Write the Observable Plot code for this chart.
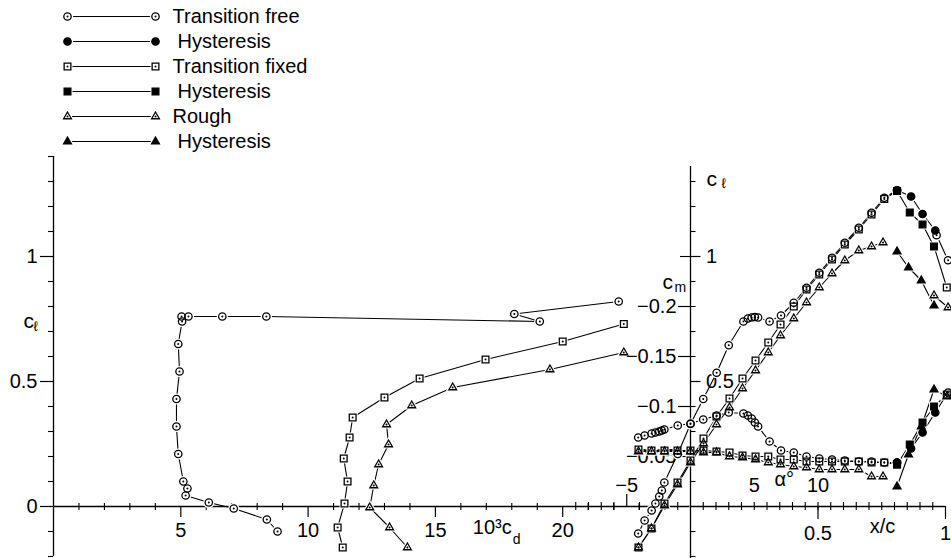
<!DOCTYPE html>
<html><head><meta charset="utf-8">
<script src="https://cdn.jsdelivr.net/npm/d3@7"></script>
<script src="https://cdn.jsdelivr.net/npm/@observablehq/plot@0.6"></script>
<style>
body{margin:0;background:#fff}
#chart{position:relative;width:951px;height:558px;overflow:hidden;background:#fff}
</style></head><body><div id="chart"></div>
<script>
// ---------- Drag polar (left panel): 10^3 c_d vs c_l ----------
const cdFree = [8.8, 8.38, 7.08, 6.1, 5.19, 5.26, 5.1, 4.9, 4.83, 4.83, 4.95, 4.9, 5.05, 5.03, 5.3, 6.63, 8.36, 19.1, 18.1, 22.2];
const clPolarFree = [-0.1, -0.052, -0.008, 0.016, 0.044, 0.072, 0.1, 0.21, 0.32, 0.43, 0.54, 0.65, 0.74, 0.76, 0.76, 0.76, 0.76, 0.74, 0.77, 0.82];
const cdFixed = [11.36, 11.16, 11.43, 11.55, 11.4, 11.63, 11.75, 13.0, 14.38, 16.97, 20.0, 22.4];
const clPolarFixed = [-0.164, -0.084, 0.012, 0.10, 0.192, 0.276, 0.356, 0.436, 0.512, 0.588, 0.66, 0.73];
const cdRough = [13.9, 13.2, 12.42, 12.58, 12.77, 13.16, 13.08, 14.07, 15.68, 19.5, 22.4];
const clPolarRough = [-0.164, -0.084, -0.004, 0.084, 0.168, 0.248, 0.328, 0.404, 0.476, 0.548, 0.616];

// ---------- Lift and moment curves (right panel): alpha vs c_l, c_m ----------
const alphaFree = [-4.1,-3.6,-3.05,-2.75,-2.45,-2.25,-2.05,-1.0,0,1.0,2.05,3.0,4.15,4.5,4.8,5.05,5.3,6.2,7.1,8.1,9.1,10.1,11.1,12.1,13.2,14.2,15.2,16.2];
const clFree = [-0.108,-0.056,-0.016,0.012,0.04,0.064,0.096,0.21,0.33,0.43,0.535,0.645,0.74,0.752,0.756,0.758,0.756,0.74,0.764,0.815,0.875,0.935,0.995,1.055,1.115,1.175,1.235,1.265];
const cmFree = [-0.069,-0.071,-0.073,-0.074,-0.075,-0.076,-0.077,-0.081,-0.083,-0.087,-0.091,-0.094,-0.093,-0.091,-0.088,-0.084,-0.080,-0.065,-0.056,-0.054,-0.050,-0.048,-0.047,-0.046,-0.045,-0.045,-0.044,-0.044];
const alphaFreeStall = [19.3, 20.2];
const clFreeStall = [1.085, 0.985];
const alphaFreeStallCm = [20.2];
const cmFreeStall = [-0.114];
const alphaFreeHyst = [19.2, 18.2, 17.3, 16.2];
const clFreeHyst = [1.104, 1.17, 1.24, 1.265];
const cmFreeHyst = [-0.094, -0.074, -0.058, -0.044];

const alphaFixed = [-4.08,-3.06,-2.04,-1.02,0,1.02,2.04,3.06,4.08,5.1,6.1,7.06,8.1,9.1,10.1,11.1,12.1,13.2,14.2,15.2,16.2];
const clFixed = [-0.164,-0.088,0.012,0.096,0.184,0.272,0.36,0.432,0.512,0.584,0.656,0.728,0.80,0.868,0.928,0.988,1.048,1.108,1.168,1.23,1.262];
const cmFixed = [-0.057,-0.056,-0.056,-0.056,-0.056,-0.056,-0.055,-0.054,-0.051,-0.050,-0.050,-0.047,-0.047,-0.045,-0.045,-0.045,-0.045,-0.045,-0.044,-0.044,-0.042];
const alphaFixedStall = [20.1];
const clFixedStall = [0.876];
const cmFixedStall = [-0.112];
const alphaFixedHyst = [19.1, 18.2, 17.2, 16.2];
const clFixedHyst = [1.04, 1.128, 1.176, 1.262];
const cmFixedHyst = [-0.100, -0.084, -0.062, -0.042];

const alphaRough = [-4.08,-3.06,-2.04,-1.02,0,1.02,2.04,3.06,4.08,5.1,6.1,7.06,8.1,9.1,10.1,11.1,12.1,13.2,14.2,15.1];
const clRough = [-0.164,-0.088,0.004,0.088,0.176,0.252,0.328,0.396,0.472,0.544,0.616,0.684,0.752,0.816,0.876,0.932,0.984,1.024,1.04,1.056];
const cmRough = [-0.055,-0.055,-0.055,-0.055,-0.055,-0.054,-0.054,-0.050,-0.049,-0.047,-0.044,-0.042,-0.040,-0.039,-0.037,-0.037,-0.037,-0.037,-0.030,-0.030];
const alphaRoughStall = [19.1, 20.2];
const clRoughStall = [0.844, 0.796];
const alphaRoughStallCm = [20.1];
const cmRoughStall = [-0.110];
const alphaRoughHyst = [19.1, 18.1, 17.1, 16.2];
const clRoughHyst = [0.804, 0.904, 0.956, 1.02];
const cmRoughHyst = [-0.117, -0.080, -0.052, -0.020];

// ---------- Ticks and labels ----------
const clMajor = [0, 0.5, 1];
const clMinorLeft = [-0.2,-0.1,0.1,0.2,0.3,0.4,0.6,0.7,0.8,0.9,1.1,1.2,1.3,1.4];
const clMajorRight = [0.5, 1];
const clMinorRight = [-0.2,-0.1,0.1,0.2,0.3,0.4,0.6,0.7,0.8,0.9,1.1,1.2,1.3];
const cdMajor = [5, 10, 15, 20];
const cdMinor = [1,2,3,4,6,7,8,9,11,12,13,14,16,17,18,19,21,22,23,24];
const cmMajor = [-0.05, -0.1, -0.15, -0.2];
const cmTickLabels = ["−0.05", "−0.1", "−0.15", "−0.2"];
const cmMinor = [-0.25];
const alphaLabeled = [-5, 5, 10];
const alphaTickLabels = ["−5", "5", "10"];
const alphaMinor = [-9,-8,-7,-6,-4,-3,-2,-1,1,2,3,4,5,6,7,8,9,10,11,12,13,14,15,16,17,18,19];
const xcMajor = [0.5, 1];

const legendLabels = ["Transition free","Hysteresis","Transition fixed","Hysteresis","Rough","Hysteresis"];
const legendSymbols = ["circle","circle","square","square","triangle","triangle"];
const legendFilled = [false,true,false,true,false,true];

// ---------- Helpers ----------
const W = 951, H = 558;
const FONT = "'Liberation Sans', Arial, 'DejaVu Sans', sans-serif";
const chart = document.getElementById("chart");
const STYLE = {background: "none", fontFamily: FONT, fontSize: "20px", color: "black", overflow: "visible", position: "absolute", left: "0px", top: "0px"};
function layer(opts, marks) {
  const svg = Plot.plot({width: W, height: H, ...opts, style: STYLE, marks});
  chart.appendChild(svg);
}
const pts = (xs, ys) => xs.map((x, i) => ({x, y: ys[i]}));
const SYM = {circle: 3.7, square: 3.8, triangle: 2.9};
const GAP = {circle: 1.9, square: 1.8, triangle: 2.3};
const lineOf = (data) => Plot.line(data, {x: "x", y: "y", stroke: "black", strokeWidth: 1.1});
const haloOf = (data, symbol) => Plot.dot(data, {x: "x", y: "y", symbol, r: SYM[symbol] + GAP[symbol], fill: "white", stroke: "none"});
function markOf(data, symbol, filled) {
  const out = [Plot.dot(data, {x: "x", y: "y", symbol, r: SYM[symbol], fill: filled ? "black" : "none", stroke: "black", strokeWidth: 1.3})];
  if (!filled) out.push(Plot.dot(data, {x: "x", y: "y", r: 1, fill: "black", stroke: "none"}));
  return out;
}

// frames
const frameL = {marginLeft: 53, marginRight: 261.5, marginTop: 156, marginBottom: 52};
const frameR = {marginLeft: 690, marginRight: 6, marginTop: 156, marginBottom: 52};

// ---------- Legend ----------
{
  const rows = legendLabels.map((label, i) => ({label, i, symbol: legendSymbols[i], filled: legendFilled[i]}));
  const marks = [Plot.ruleY(rows, {y: "i", x1: 0, x2: 1, stroke: "black", strokeWidth: 1})];
  rows.forEach(r => {
    const d = [{x: 0, y: r.i}, {x: 1, y: r.i}];
    marks.push(haloOf(d, r.symbol), ...markOf(d, r.symbol, r.filled));
  });
  marks.push(Plot.text(rows.filter(r => !r.filled), {x: 1, y: "i", text: "label", textAnchor: "start", dx: 17}));
  marks.push(Plot.text(rows.filter(r => r.filled), {x: 1, y: "i", text: "label", textAnchor: "start", dx: 22}));
  layer({x: {domain: [0, 1], range: [67, 155], axis: null}, y: {domain: [0, 5], range: [16, 141], axis: null}}, marks);
}

// ---------- Left panel: drag polar ----------
{
  const free = pts(cdFree, clPolarFree), fixed = pts(cdFixed, clPolarFixed), rough = pts(cdRough, clPolarRough);
  layer({...frameL, x: {domain: [0, 25], label: null}, y: {domain: [0, 1.4], label: null}}, [
    Plot.ruleY([0], {stroke: "black", strokeWidth: 1.3}),
    Plot.ruleX([0], {y1: -0.2, y2: 1.4, stroke: "black", strokeWidth: 1.3}),
    Plot.axisY({anchor: "left", ticks: clMinorLeft, tickSize: 5, tickFormat: () => "", label: null, strokeWidth: 1.1}),
    Plot.axisY({anchor: "left", ticks: clMajor, tickSize: 13, tickPadding: 3, tickFormat: d => String(d), label: null, strokeWidth: 1.2}),
    Plot.axisY({anchor: "right", ticks: clMinorRight, tickSize: 5, tickFormat: () => "", label: null, strokeWidth: 1.1}),
    Plot.axisY({anchor: "right", ticks: clMajorRight, tickSize: 10, tickPadding: 6, tickFormat: d => String(d), label: null, strokeWidth: 1.2}),
    Plot.ruleX(cdMinor, {x: d => d, y1: 0, y2: 0, insetTop: -3, insetBottom: -4, stroke: "black", strokeWidth: 1.1}),
    Plot.axisX({anchor: "bottom", ticks: cdMajor, tickSize: 11, tickPadding: 5, tickFormat: d => String(d), label: null, strokeWidth: 1.2}),
    Plot.text(["c"], {frameAnchor: "left", y: 0.74, dx: -30, fontSize: 21}),
    Plot.text(["ℓ"], {frameAnchor: "left", y: 0.72, dx: -20, fontSize: 14}),
    Plot.text(["c"], {frameAnchor: "right", y: 1.31, dx: 27, fontSize: 21}),
    Plot.text(["ℓ"], {frameAnchor: "right", y: 1.29, dx: 36, fontSize: 14}),
    Plot.text(["10³c"], {x: 18.0, frameAnchor: "bottom", dy: 27, textAnchor: "end"}),
    Plot.text(["d"], {x: 18.0, frameAnchor: "bottom", dy: 37, dx: 1, textAnchor: "start", fontSize: 14}),
    lineOf(free), lineOf(fixed), lineOf(rough),
    haloOf(free, "circle"), haloOf(fixed, "square"), haloOf(rough, "triangle"),
    ...markOf(free, "circle", false), ...markOf(fixed, "square", false), ...markOf(rough, "triangle", false)
  ]);
}

// ---------- x/c axis ----------
layer({...frameR, x: {domain: [0, 1], label: null}, y: {axis: null}}, [
  Plot.axisX({anchor: "bottom", ticks: xcMajor, tickSize: 13, tickPadding: 6, tickFormat: d => String(d), label: null, strokeWidth: 1.2}),
  Plot.text(["x/c"], {x: 0.753, frameAnchor: "bottom", dy: 26})
]);

// ---------- Right panel series ----------
const S = {
  free:  {sym: "circle",
          cl: pts(alphaFree, clFree), clStall: pts(alphaFreeStall, clFreeStall), clHyst: pts(alphaFreeHyst, clFreeHyst),
          cm: pts(alphaFree, cmFree), cmStall: pts(alphaFreeStallCm, cmFreeStall), cmHyst: pts(alphaFreeHyst, cmFreeHyst)},
  fixed: {sym: "square",
          cl: pts(alphaFixed, clFixed), clStall: pts(alphaFixedStall, clFixedStall), clHyst: pts(alphaFixedHyst, clFixedHyst),
          cm: pts(alphaFixed, cmFixed), cmStall: pts(alphaFixedStall, cmFixedStall), cmHyst: pts(alphaFixedHyst, cmFixedHyst)},
  rough: {sym: "triangle",
          cl: pts(alphaRough, clRough), clStall: pts(alphaRoughStall, clRoughStall), clHyst: pts(alphaRoughHyst, clRoughHyst),
          cm: pts(alphaRough, cmRough), cmStall: pts(alphaRoughStallCm, cmRoughStall), cmHyst: pts(alphaRoughHyst, cmRoughHyst)}
};
const order = ["free", "fixed", "rough"];
function underlay(k) {
  const m = [];
  order.forEach(n => {
    const s = S[n];
    m.push(lineOf(s[k]), lineOf([...s[k + "Stall"]].reverse().concat(s[k + "Hyst"])));
  });
  order.forEach(n => {
    const s = S[n];
    m.push(haloOf(s[k], s.sym), haloOf(s[k + "Stall"], s.sym), haloOf(s[k + "Hyst"], s.sym));
  });
  return m;
}
function overlay(k) {
  const m = [];
  order.forEach(n => {
    const s = S[n];
    m.push(...markOf(s[k], s.sym, false), ...markOf(s[k + "Stall"], s.sym, false), ...markOf(s[k + "Hyst"], s.sym, true));
  });
  return m;
}
const cmScales = {...frameR, x: {domain: [0, 20], label: null}, y: {domain: [0, -0.35], label: null}};
const clScales = {...frameR, x: {domain: [0, 20], label: null, axis: null}, y: {domain: [0, 1.4], label: null, axis: null}};
const cmScalesNoAxis = {...frameR, x: {domain: [0, 20], label: null, axis: null}, y: {domain: [0, -0.35], label: null, axis: null}};

// c_m axis, alpha axis, c_m lines
layer(cmScales, [
  Plot.ruleY([0], {stroke: "black", strokeWidth: 1.3}),
  Plot.axisY({anchor: "left", ticks: cmMajor, tickSize: 12, tickPadding: 2, tickFormat: d => cmTickLabels[cmMajor.indexOf(d)], label: null, strokeWidth: 1.2}),
  Plot.axisY({anchor: "left", ticks: cmMinor, tickSize: 10, tickFormat: () => "", label: null, strokeWidth: 1.1}),
  Plot.ruleX(alphaMinor, {x: d => d, y1: 0, y2: 0, insetTop: -4, insetBottom: -4, stroke: "black", strokeWidth: 1.1}),
  Plot.ruleX([-5], {x: d => d, y1: 0, y2: 0, insetTop: -12, stroke: "black", strokeWidth: 1.2}),
  Plot.axisX({anchor: "bottom", ticks: alphaLabeled, tickSize: 0, tickPadding: -29, tickFormat: d => alphaTickLabels[alphaLabeled.indexOf(d)], label: null}),
  Plot.text(["α°"], {x: 7.35, frameAnchor: "bottom", dy: -21}),
  Plot.text(["c"], {frameAnchor: "left", y: -0.224, dx: -28, fontSize: 21}),
  Plot.text(["m"], {frameAnchor: "left", y: -0.219, dx: -16, fontSize: 14}),
  ...underlay("cm")
]);
// c_l axis line and lines
layer(clScales, [
  Plot.ruleX([0], {y1: -0.21, y2: 1.36, stroke: "black", strokeWidth: 1.3}),
  ...underlay("cl")
]);
layer(cmScalesNoAxis, overlay("cm"));
layer(clScales, overlay("cl"));
</script></body></html>
